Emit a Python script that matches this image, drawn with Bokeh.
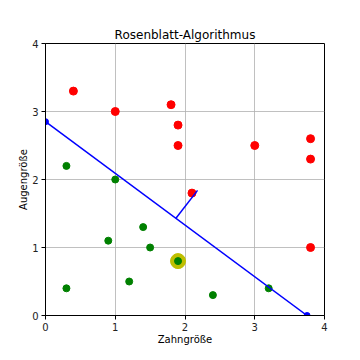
from bokeh.plotting import figure
from bokeh.models import FixedTicker, Range1d
from bokeh.embed import file_html
from bokeh.resources import INLINE

# Data
red_x = [0.4, 1.0, 1.8, 1.9, 1.9, 3.0, 3.8, 3.8, 2.1, 3.8]
red_y = [3.3, 3.0, 3.1, 2.8, 2.5, 2.5, 2.6, 2.3, 1.8, 1.0]
green_x = [0.3, 1.0, 0.9, 1.4, 1.5, 1.2, 0.3, 1.9, 2.4, 3.2]
green_y = [2.2, 2.0, 1.1, 1.3, 1.0, 0.5, 0.4, 0.8, 0.3, 0.4]
highlight_x = [1.9]
highlight_y = [0.8]
line_x = [0.0, 3.75]
line_y = [2.85, 0.0]
normal_x = [1.87, 2.18]
normal_y = [1.43, 1.84]
ticks = [0, 1, 2, 3, 4]

FONT = "DejaVu Sans"

p = figure(width=352, height=352, output_backend="svg", toolbar_location=None,
           x_range=Range1d(0, 4), y_range=Range1d(0, 4),
           min_border_left=45, min_border_right=28, min_border_top=43, min_border_bottom=37,
           title="Rosenblatt-Algorithmus")

p.title.text_font = FONT
p.title.text_font_size = "12px"
p.title.text_font_style = "normal"
p.title.align = "center"
p.title.text_color = "#000000"
p.title.standoff = 4

for ax in (p.xaxis, p.yaxis):
    ax.ticker = FixedTicker(ticks=ticks)
    ax.minor_tick_line_color = None
    ax.major_tick_out = 4
    ax.major_tick_in = 0
    ax.major_label_text_font = FONT
    ax.major_label_text_font_size = "10px"
    ax.major_label_text_color = "#222222"
    ax.major_label_standoff = 3
    ax.axis_label_text_font = FONT
    ax.axis_label_text_font_size = "10px"
    ax.axis_label_text_font_style = "normal"
    ax.axis_label_text_color = "#000000"
    ax.axis_label_standoff = 0
    ax.axis_line_color = "#000000"
    ax.major_tick_line_color = "#000000"

p.xaxis.axis_label = "Zahngröße"
p.yaxis.axis_label = "Augengröße"
p.yaxis.major_label_orientation = "horizontal"

p.grid.grid_line_color = "#b0b0b0"
p.grid.grid_line_width = 0.8
p.outline_line_color = "#000000"
p.outline_line_alpha = 1.0

p.scatter(highlight_x, highlight_y, size=15, color="#bfbf00")
p.scatter(red_x, red_y, size=8, color="#ff0000")
p.scatter(green_x, green_y, size=7, color="#008000")
p.line(line_x, line_y, line_color="#0000ff", line_width=1.5)
p.scatter(line_x, line_y, size=6, color="#0000ff")
p.line(normal_x, normal_y, line_color="#0000ff", line_width=1.5)

open("out.html", "w").write(file_html(p, INLINE))
